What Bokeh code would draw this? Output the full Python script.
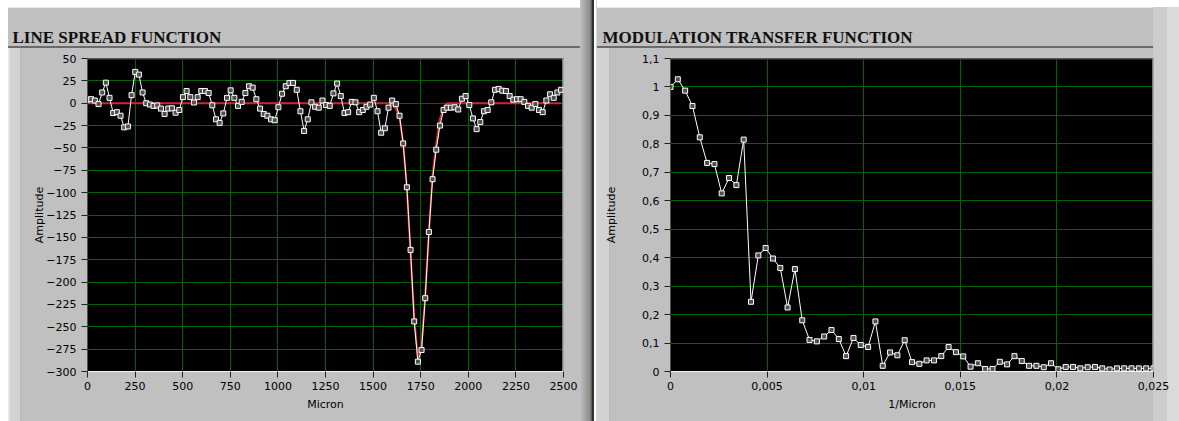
from bokeh.plotting import figure
from bokeh.layouts import row
from bokeh.models import FixedTicker, Spacer, ColumnDataSource, Range1d, Span
from bokeh.embed import file_html
from bokeh.resources import INLINE

# ---------------- data: line spread function ----------------
lsf_step = 19.28  # micron per sample
lsf_amp = [
    4, 4.5, 3, -1, 12, 23, 6, -11, -10, -14, -27, -26, 9, 35, 32, 12, 0, -1.5, -3, -2.5, -6, -12, -6,
    -5.7, -10.6, -7.6, 6.8, 13.6, 6.8, 0.8, 6.8, 13.6, 13.6, 11.4, -2.3, -18, -22, -11.4, 6, 14.4, 6,
    -3, 1.5, 11.4, 19, 17.4, 4.5, -6, -12, -14, -18, -19, -4.5, 10.6, 19, 22.7, 22.7,
    15, -9, -31, -18, 1, -4, -5, 3, -2, -3, 11, 22, 8, -11, -10, 1.5, 1, -10, -7.6, -4, -1.5, 6, -9,
    -33, -28, -5, 3, -1, -14, -45, -94, -164, -244, -289, -276, -218, -144, -85, -52, -25, -7.6, -5,
    -5, -4.5, -7, 5, 8, -2, -17, -29, -21, -9, -7.6, 1, 15, 16, 14, 13.6, 8, 4, 4.5, 4.5, 1.5, -3, -5,
    -1, -7.6, -10, 3, 10, 6, 12, 15,
]
lsf_fit = [0] * 83 + [-2, -6, -16, -45, -95, -168, -240, -284, -272, -215, -145, -80, -45, -18, -4] + [0] * 32
lsf_x = [i * lsf_step for i in range(len(lsf_amp))]
lsf_xticks = [0, 250, 500, 750, 1000, 1250, 1500, 1750, 2000, 2250, 2500]
lsf_yticks = [50, 25, 0, -25, -50, -75, -100, -125, -150, -175, -200, -225, -250, -275, -300]

# ---------------- data: modulation transfer function ----------------
mtf_step = 0.025 / 66  # 1/micron per sample
mtf_val = [
    1.0, 1.027, 0.987, 0.933, 0.823, 0.733, 0.729, 0.626, 0.680, 0.655, 0.815, 0.245, 0.408, 0.434,
    0.397, 0.364, 0.225, 0.360, 0.180, 0.111, 0.106, 0.123, 0.146, 0.114, 0.054, 0.118, 0.093, 0.086,
    0.176, 0.020, 0.067, 0.057, 0.110, 0.033, 0.027, 0.039, 0.039, 0.054, 0.086, 0.068, 0.053, 0.017,
    0.029, 0.009, 0.009, 0.034, 0.025, 0.054, 0.037, 0.020, 0.020, 0.015, 0.029, 0.008, 0.016, 0.016,
    0.011, 0.015, 0.016, 0.011, 0.007, 0.011, 0.011, 0.011, 0.011, 0.011, 0.011,
]
mtf_x = [i * mtf_step for i in range(len(mtf_val))]
mtf_xticks = [0, 0.005, 0.01, 0.015, 0.02, 0.025]
mtf_xlabels = ["0", "0,005", "0,01", "0,015", "0,02", "0,025"]
mtf_yticks = [0, 0.1, 0.2, 0.3, 0.4, 0.5, 0.6, 0.7, 0.8, 0.9, 1.0, 1.1]
mtf_ylabels = ["0", "0,1", "0,2", "0,3", "0,4", "0,5", "0,6", "0,7", "0,8", "0,9", "1", "1,1"]

PANEL = "#c0c0c0"
GRID = "#006400"
FONT = "DejaVu Sans"


def make_panel(width, bl, br, x_range, y_range, title, title_dx, xlabel, label_standoff, bg):
    p = figure(width=width, height=414, output_backend="svg", toolbar_location=None,
               x_range=x_range, y_range=y_range,
               min_border_left=bl, min_border_right=br, min_border_top=51, min_border_bottom=50,
               styles={"background": bg})
    p.background_fill_color = "black"
    p.border_fill_alpha = 0
    p.outline_line_color = None
    p.title.text = title
    p.title.align = "left"
    p.title.offset = title_dx
    p.title.standoff = 23
    p.title.text_font = "Liberation Serif"
    p.title.text_font_style = "bold"
    p.title.text_font_size = "17px"
    p.title.text_color = "#101010"
    for ax in (p.xaxis[0], p.yaxis[0]):
        ax.major_label_text_font = FONT
        ax.major_label_text_font_size = "11px"
        ax.major_label_text_color = "#000000"
        ax.axis_label_text_font = FONT
        ax.axis_label_text_font_size = "11px"
        ax.axis_label_text_font_style = "normal"
        ax.axis_label_text_color = "#000000"
        ax.minor_tick_line_color = None
        ax.major_tick_line_color = "#202020"
        ax.major_tick_out = 6
        ax.major_tick_in = 0
    p.xaxis.axis_line_color = "#f4f4f4"
    p.yaxis.axis_line_color = "#505050"
    p.xaxis.axis_label = xlabel
    p.yaxis.axis_label = "Amplitude"
    p.yaxis.axis_label_standoff = label_standoff
    p.xaxis.axis_label_standoff = 5
    p.xaxis.major_label_standoff = 4
    p.grid.grid_line_color = GRID
    p.grid.grid_line_width = 1
    # bevelled frame edges: dark on top, light on the right
    p.add_layout(Span(location=y_range.end, dimension="width", line_color="#505050", line_width=2))
    p.add_layout(Span(location=x_range.end, dimension="height", line_color="#eeeeee", line_width=2))
    return p


bg1 = ("linear-gradient(to right, #e6e6e6 0 2px, #d2d2d2 2px 12px, #b8b8b8 12px 13px, transparent 13px) "
       "0 41px / 100% 100% no-repeat, "
       "linear-gradient(to bottom, #e8e8e8 0 1px, #c0c0c0 1px 39px, #6a6a6a 39px 41px, #c0c0c0 41px)")
bg2 = ("linear-gradient(to right, #d2d2d2 0 12px, #b8b8b8 12px 13px, transparent 13px) "
       "0 41px / 100% 100% no-repeat, "
       "linear-gradient(to right, transparent 0 556px, #cdcdcd 556px 570px, #dadada 570px), "
       "linear-gradient(to bottom, #e8e8e8 0 1px, #c0c0c0 1px 39px, #6a6a6a 39px 41px, #c0c0c0 41px)")

p1 = make_panel(572, 79, 17, Range1d(0, 2500), Range1d(-300, 50),
                "LINE SPREAD FUNCTION", -75, "Micron", -3, bg1)
p1.margin = (7, 0, 0, 8)
p1.xaxis.ticker = FixedTicker(ticks=lsf_xticks)
p1.yaxis.ticker = FixedTicker(ticks=lsf_yticks)
src1 = ColumnDataSource(dict(x=lsf_x, amp=lsf_amp, fit=lsf_fit))
p1.line("x", "fit", source=src1, line_color="#d02828", line_width=2)
p1.line("x", "amp", source=src1, line_color="white", line_width=1)
p1.scatter("x", "amp", source=src1, marker="square", size=5, fill_color="#505050",
           line_color="white", line_width=1)

p2 = make_panel(582, 73, 26, Range1d(0, 0.025), Range1d(0, 1.1),
                "MODULATION TRANSFER FUNCTION", -68, "1/Micron", 21, bg2)
p2.margin = (7, 0, 0, 0)
p2.xaxis.ticker = FixedTicker(ticks=mtf_xticks)
p2.yaxis.ticker = FixedTicker(ticks=mtf_yticks)
p2.xaxis.major_label_overrides = dict(zip(mtf_xticks, mtf_xlabels))
p2.yaxis.major_label_overrides = dict(zip(mtf_yticks, mtf_ylabels))
src2 = ColumnDataSource(dict(x=mtf_x, v=mtf_val))
p2.line("x", "v", source=src2, line_color="white", line_width=1)
p2.scatter("x", "v", source=src2, marker="square", size=5, fill_color="#505050",
           line_color="white", line_width=1)

sep = Spacer(width=17, height=421, styles={
    "background": "linear-gradient(to right, #c0c0c0 0px, #8a8a8a 10px, #505050 12px, "
                  "#303030 12px, #303030 14px, #ffffff 14px, #ffffff 16px, #d8d8d8 16px, #d8d8d8 17px)"})

layout = row(p1, sep, p2)
open("out.html", "w").write(file_html(layout, INLINE))
